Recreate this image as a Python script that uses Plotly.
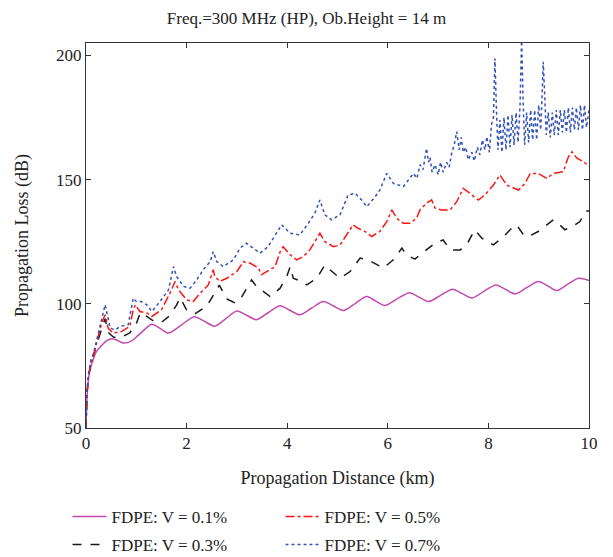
import plotly.graph_objects as go

# ---------------- data ----------------
dist_v01 = [0, 0.02, 0.05, 0.1, 0.15, 0.2, 0.3, 0.4, 0.5, 0.6, 0.74, 0.9, 1.05, 1.31, 1.48, 1.64,
            1.9, 2.15, 2.35, 2.56, 2.78, 3.0, 3.2, 3.39, 3.62, 3.86, 4.05, 4.25, 4.48, 4.72, 4.92,
            5.12, 5.35, 5.58, 5.76, 5.94, 6.18, 6.43, 6.62, 6.81, 7.05, 7.29, 7.48, 7.67, 7.91,
            8.15, 8.34, 8.53, 8.76, 8.99, 9.18, 9.36, 9.58, 9.79, 10.0]
loss_v01 = [50, 62, 70, 75, 78, 80.5, 83, 85, 85.9, 85.5, 84.2, 85, 87.5, 91.8, 90, 88.2,
            91.5, 94.8, 93, 91.0, 94, 97.1, 95.3, 93.6, 96.4, 99.2, 97.4, 95.6, 98.2, 100.9, 99.1,
            97.3, 100.1, 102.9, 101.1, 99.3, 101.9, 104.5, 102.7, 100.9, 103.4, 105.9, 104.1, 102.3, 105.0,
            107.6, 105.8, 104.0, 106.5, 109.0, 107.2, 105.4, 107.9, 110.3, 109.4]

dist_v03 = [0, 0.02, 0.05, 0.1, 0.2, 0.3, 0.38, 0.44, 0.55, 0.7, 0.87, 1.0, 1.08, 1.2, 1.35, 1.5,
            1.65, 1.8, 1.87, 2.0, 2.17, 2.4, 2.55, 2.65, 2.8, 2.95, 3.06, 3.16, 3.29, 3.39, 3.49,
            3.66, 3.86, 4.0, 4.06, 4.12, 4.29, 4.39, 4.59, 4.75, 4.85, 5.05, 5.25, 5.45, 5.61, 5.91,
            6.11, 6.28, 6.37, 6.54, 6.64, 6.77, 6.94, 7.1, 7.24, 7.44, 7.6, 7.73, 7.87, 8.1, 8.3,
            8.46, 8.56, 8.7, 8.79, 8.99, 9.29, 9.42, 9.52, 9.72, 9.82, 9.92, 10.0]
loss_v03 = [50, 64, 71, 76, 83, 89, 94, 88.5, 86.5, 86.5, 88.3, 92, 96.5, 95, 93, 92.5,
            95, 99.5, 102.5, 97.5, 96, 99, 104, 107.5, 102, 100.5, 101.5, 105, 109.6, 107, 105.6,
            102.9, 106.3, 111.5, 115, 110.3, 109, 107.6, 110.3, 115.7, 113.7, 110.3, 113, 118.4, 117.7, 114.4,
            117.7, 122.4, 119.7, 118, 119.7, 121.7, 124.4, 125.7, 121.7, 121.7, 125, 129.8, 126.4, 123.7, 127,
            130.4, 131.8, 127.7, 127, 129.1, 133.8, 131.8, 129.8, 131.8, 133.1, 137.1, 137.5]

dist_v05 = [0, 0.02, 0.05, 0.1, 0.15, 0.21, 0.31, 0.38, 0.44, 0.54, 0.71, 0.87, 0.94, 0.98, 1.07,
            1.21, 1.31, 1.5, 1.67, 1.77, 1.84, 2.0, 2.13, 2.27, 2.43, 2.53, 2.56, 2.66, 2.8, 3.0,
            3.13, 3.19, 3.26, 3.43, 3.49, 3.59, 3.76, 3.86, 3.92, 4.06, 4.19, 4.32, 4.45, 4.59, 4.65,
            4.75, 4.92, 5.05, 5.21, 5.31, 5.41, 5.55, 5.68, 5.84, 5.98, 6.08, 6.18, 6.31, 6.44, 6.57,
            6.64, 6.77, 6.87, 6.94, 7.07, 7.24, 7.37, 7.5, 7.63, 7.8, 7.93, 8.1, 8.23, 8.36, 8.6,
            8.73, 8.83, 8.99, 9.16, 9.29, 9.49, 9.59, 9.66, 9.76, 9.89, 10.0]
loss_v05 = [50, 64, 71, 76.5, 78.5, 84.2, 92.2, 95.6, 90.2, 88.2, 88.9, 90.9, 97.6, 99.6, 96.9,
            96.3, 94.9, 97.6, 104.3, 109, 105.6, 101.6, 100.9, 104.3, 107.6, 113.7, 111, 109, 110.3, 113,
            117, 116.5, 116.4, 114.4, 111.7, 113, 115, 121, 123, 119.7, 117.7, 119, 121.7, 126.4, 128.4,
            125, 123, 123.7, 128.4, 131.8, 130.4, 129.1, 127.1, 129.1, 133.1, 137.8, 134.4, 132.4, 132.4, 134.4,
            137.8, 140.5, 141.8, 138.5, 137.8, 137.8, 141.1, 146.5, 144.5, 141.8, 143.8, 147.8, 151.9, 147.8, 145.8,
            148.5, 152.5, 152.5, 150.5, 152.5, 153.2, 159.2, 161.2, 158.6, 157.2, 155.5]

dist_v07 = [0, 0.02, 0.05, 0.1, 0.15, 0.21, 0.31, 0.38, 0.41, 0.48, 0.58, 0.68, 0.84, 0.94, 1.0,
            1.1, 1.21, 1.31, 1.47, 1.64, 1.74, 1.8, 1.94, 2.07, 2.2, 2.33, 2.47, 2.53, 2.6, 2.73,
            2.93, 3.06, 3.19, 3.36, 3.46, 3.62, 3.79, 3.89, 4.06, 4.25, 4.42, 4.55, 4.65, 4.75, 4.88,
            5.05, 5.21, 5.35, 5.48, 5.58, 5.75, 5.84, 5.98, 6.11, 6.31, 6.51, 6.58, 6.64, 6.7, 6.77,
            6.81, 6.84, 6.88, 6.94, 7.0, 7.05, 7.1, 7.17, 7.22, 7.27, 7.32, 7.37, 7.42, 7.46, 7.5,
            7.55, 7.6, 7.67, 7.72, 7.78, 7.83, 7.88, 7.93, 7.97, 8.02, 8.06, 8.1, 8.13, 8.16, 8.19,
            8.23, 8.27, 8.31, 8.35, 8.39, 8.43, 8.47, 8.51, 8.55, 8.59, 8.63, 8.66, 8.69, 8.72, 8.76,
            8.8, 8.84, 8.88, 8.92, 8.96, 9.0, 9.04, 9.07, 9.09, 9.12, 9.15, 9.19, 9.23, 9.27, 9.31,
            9.35, 9.39, 9.43, 9.47, 9.51, 9.55, 9.59, 9.63, 9.67, 9.71, 9.75, 9.79, 9.83, 9.87, 9.91,
            9.95, 10.0]
loss_v07 = [50, 65, 72, 77.5, 80, 85, 93, 99.6, 96.9, 90.2, 89.5, 90.9, 91.6, 102.3, 100.9,
            100.9, 99.6, 96.9, 100.9, 105.6, 115, 111, 107, 106.3, 109.6, 113.7, 117, 121, 117, 115,
            117.7, 122.4, 124.4, 121.7, 120.4, 123, 128.4, 131.8, 128.4, 127.7, 132.4, 136.5, 141.8, 135.8, 133.8,
            135.8, 143.8, 144.5, 141.8, 139.1, 143.1, 145.8, 152.5, 148.5, 147.2, 152.5, 150.5, 156, 154, 162.6,
            157, 159, 153, 156, 152, 157, 153, 157, 155, 160.6, 164, 169.3, 162, 167, 161,
            163, 158, 161, 157.5, 163, 160, 166, 162, 167.3, 161, 172, 175, 198.8, 178, 162,
            174, 161, 175, 162, 176, 163, 176, 164, 177, 165, 180, 207, 182, 164, 177,
            165, 178, 166, 178, 166, 180, 170, 185, 197.4, 184, 168, 177, 167, 177, 168,
            178, 168, 178, 169, 178, 169, 179, 169, 179, 170, 179, 170, 180, 170, 180,
            171, 178]

x_ticks = [0, 2, 4, 6, 8, 10]
y_ticks = [50, 100, 150, 200]

FONT = "Liberation Serif"
W, H = 613, 557

fig = go.Figure()
fig.add_trace(go.Scatter(x=dist_v01, y=loss_v01, mode="lines", name="FDPE: V = 0.1%",
                         line=dict(color="#C04AAE", width=1.5, shape="spline", smoothing=0.8),
                         legend="legend", legendrank=1))
fig.add_trace(go.Scatter(x=dist_v03, y=loss_v03, mode="lines", name="FDPE: V = 0.3%",
                         line=dict(color="#1a1a1a", width=1.5, dash="dash"),
                         legend="legend2", legendrank=1))
fig.add_trace(go.Scatter(x=dist_v05, y=loss_v05, mode="lines", name="FDPE: V = 0.5%",
                         line=dict(color="#FF1414", width=1.5, dash="dashdot"),
                         legend="legend", legendrank=2))
fig.add_trace(go.Scatter(x=dist_v07, y=loss_v07, mode="lines", name="FDPE: V = 0.7%",
                         line=dict(color="#3352B8", width=1.5, dash="dot"),
                         legend="legend2", legendrank=2))

axis_common = dict(showline=True, linecolor="#333333", linewidth=1, mirror="allticks",
                   ticks="inside", ticklen=5, tickcolor="#333333", showgrid=False, zeroline=False,
                   tickfont=dict(family=FONT, size=17, color="#222222"))

legend_common = dict(orientation="h", xref="container", yref="container",
                     x=67.5 / W, xanchor="left", yanchor="middle",
                     itemwidth=34,
                     entrywidth=164, entrywidthmode="pixels",
                     font=dict(family=FONT, size=17, color="#222222"),
                     bgcolor="rgba(0,0,0,0)")

fig.update_layout(
    width=W, height=H,
    margin=dict(l=86, r=24, t=43, b=129, autoexpand=False),
    paper_bgcolor="white", plot_bgcolor="white",
    title=dict(text="Freq.=300 MHz (HP), Ob.Height = 14 m", x=0.5, xanchor="center",
               y=1 - 18 / H, yanchor="middle",
               font=dict(family=FONT, size=17, color="#222222")),
    xaxis=dict(range=[0, 10], tickvals=x_ticks,
               title=dict(text="Propagation Distance (km)", standoff=18,
                          font=dict(family=FONT, size=18, color="#222222")),
               **axis_common),
    yaxis=dict(range=[50, 205], tickvals=y_ticks,
               title=dict(text="Propagation Loss (dB)", standoff=22,
                          font=dict(family=FONT, size=18, color="#222222")),
               **axis_common),
    legend=dict(y=1 - 517 / H, **legend_common),
    legend2=dict(y=1 - 545 / H, **legend_common),
    showlegend=True,
)

fig.write_html("out.html")
